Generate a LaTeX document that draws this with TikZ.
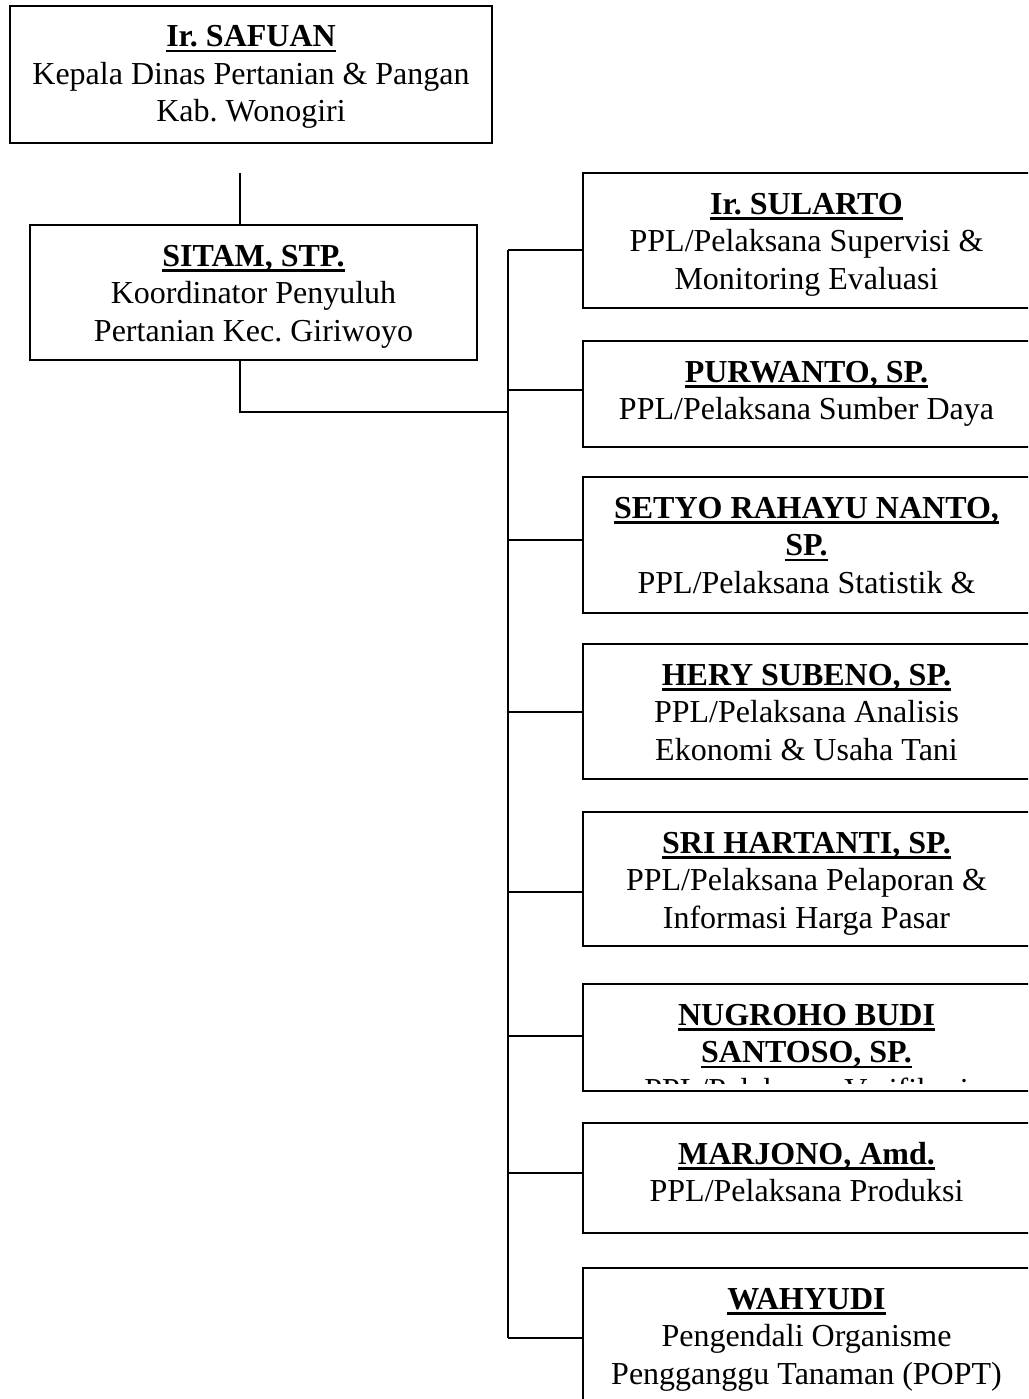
\documentclass[tikz,border=0pt]{standalone}
\usepackage{fontspec}
\setmainfont{Liberation Serif}
\newcommand\nameul[1]{\setbox0=\hbox{\bfseries #1}\rlap{\rule[-5.5pt]{\wd0}{2.2pt}}\box0}
\begin{document}
\frenchspacing
\begin{tikzpicture}[x=1pt,y=-1pt,
  orgbox/.style={draw,line width=1.4pt,inner sep=0pt,outer sep=0pt,anchor=north west},
  rbox/.style={orgbox,minimum width=447pt},
  txt/.style={anchor=base,inner sep=0pt,font=\fontsize{32}{36}\selectfont\frenchspacing},
  conn/.style={line width=1.4pt}]
\useasboundingbox (0,0) rectangle (1028,1399);
\clip (0,0) rectangle (1028,1399);

% boxes
\node[orgbox,minimum width=482pt,minimum height=137pt] (safuan) at (10,6) {};
\node[orgbox,minimum width=447pt,minimum height=135pt] (sitam) at (30,225) {};
\node[rbox,minimum height=135pt] (b1) at (583,173) {};
\node[rbox,minimum height=106pt] (b2) at (583,341) {};
\node[rbox,minimum height=136pt] (b3) at (583,477) {};
\node[rbox,minimum height=135pt] (b4) at (583,644) {};
\node[rbox,minimum height=134pt] (b5) at (583,812) {};
\node[rbox,minimum height=107pt] (b6) at (583,984) {};
\node[rbox,minimum height=110pt] (b7) at (583,1123) {};
\node[rbox,minimum height=160pt] (b8) at (583,1268) {};

% texts
\node[txt] (s1) at (251,47) {\nameul{Ir. SAFUAN}};
\node[txt] (s2) at (251,84.5) {Kepala Dinas Pertanian \& Pangan};
\node[txt] (s3) at (251,122) {Kab. Wonogiri};

\node[txt] (k1) at (253.5,266) {\nameul{SITAM, STP.}};
\node[txt] (k2) at (253.5,303.5) {Koordinator Penyuluh};
\node[txt] (k3) at (253.5,341) {Pertanian Kec. Giriwoyo};

\node[txt] (t1a) at (806.5,214) {\nameul{Ir. SULARTO}};
\node[txt] (t1b) at (806.5,251.5) {PPL/Pelaksana Supervisi \&};
\node[txt] (t1c) at (806.5,289) {Monitoring Evaluasi};

\node[txt] (t2a) at (806.5,382) {\nameul{PURWANTO, SP.}};
\node[txt] (t2b) at (806.5,419.5) {PPL/Pelaksana Sumber Daya};

\node[txt] (t3a) at (806.5,518) {\nameul{SETYO RAHAYU NANTO,}};
\node[txt] (t3b) at (806.5,555.5) {\nameul{SP.}};
\node[txt] (t3c) at (806.5,593) {PPL/Pelaksana Statistik \&};

\node[txt] (t4a) at (806.5,685) {\nameul{HERY SUBENO, SP.}};
\node[txt] (t4b) at (806.5,722.5) {PPL/Pelaksana Analisis};
\node[txt] (t4c) at (806.5,760) {Ekonomi \& Usaha Tani};

\node[txt] (t5a) at (806.5,853) {\nameul{SRI HARTANTI, SP.}};
\node[txt] (t5b) at (806.5,890.5) {PPL/Pelaksana Pelaporan \&};
\node[txt] (t5c) at (806.5,928) {Informasi Harga Pasar};

\node[txt] (t6a) at (806.5,1025) {\nameul{NUGROHO BUDI}};
\node[txt] (t6b) at (806.5,1062.5) {\nameul{SANTOSO, SP.}};
\begin{scope}
  \clip (583,984) rectangle (1030,1083);
  \node[txt] (t6c) at (806.5,1100) {PPL/Pelaksana Verifikasi};
\end{scope}

\node[txt] (t7a) at (806.5,1164) {\nameul{MARJONO, Amd.}};
\node[txt] (t7b) at (806.5,1201.5) {PPL/Pelaksana Produksi};

\node[txt] (t8a) at (806.5,1309) {\nameul{WAHYUDI}};
\node[txt] (t8b) at (806.5,1346.5) {Pengendali Organisme};
\node[txt] (t8c) at (806.5,1384) {Pengganggu Tanaman (POPT)};

% connectors
\coordinate (up) at (240,173);
\draw[conn] (up) -- (up |- sitam.north);
\coordinate (elbow) at (240,412);
\coordinate (jt) at (508,250);
\coordinate (jb) at (508,1338);
\draw[conn] (elbow |- sitam.south) -- (elbow) -- (elbow -| jt);
\draw[conn] (jt) -- (jb);
\coordinate (j1) at (508,250);
\coordinate (j2) at (508,390);
\coordinate (j3) at (508,540);
\coordinate (j4) at (508,712);
\coordinate (j5) at (508,892);
\coordinate (j6) at (508,1036);
\coordinate (j7) at (508,1173);
\coordinate (j8) at (508,1338);
\draw[conn] (j1) -- (j1 -| b1.west);
\draw[conn] (j2) -- (j2 -| b2.west);
\draw[conn] (j3) -- (j3 -| b3.west);
\draw[conn] (j4) -- (j4 -| b4.west);
\draw[conn] (j5) -- (j5 -| b5.west);
\draw[conn] (j6) -- (j6 -| b6.west);
\draw[conn] (j7) -- (j7 -| b7.west);
\draw[conn] (j8) -- (j8 -| b8.west);
\end{tikzpicture}
\end{document}
